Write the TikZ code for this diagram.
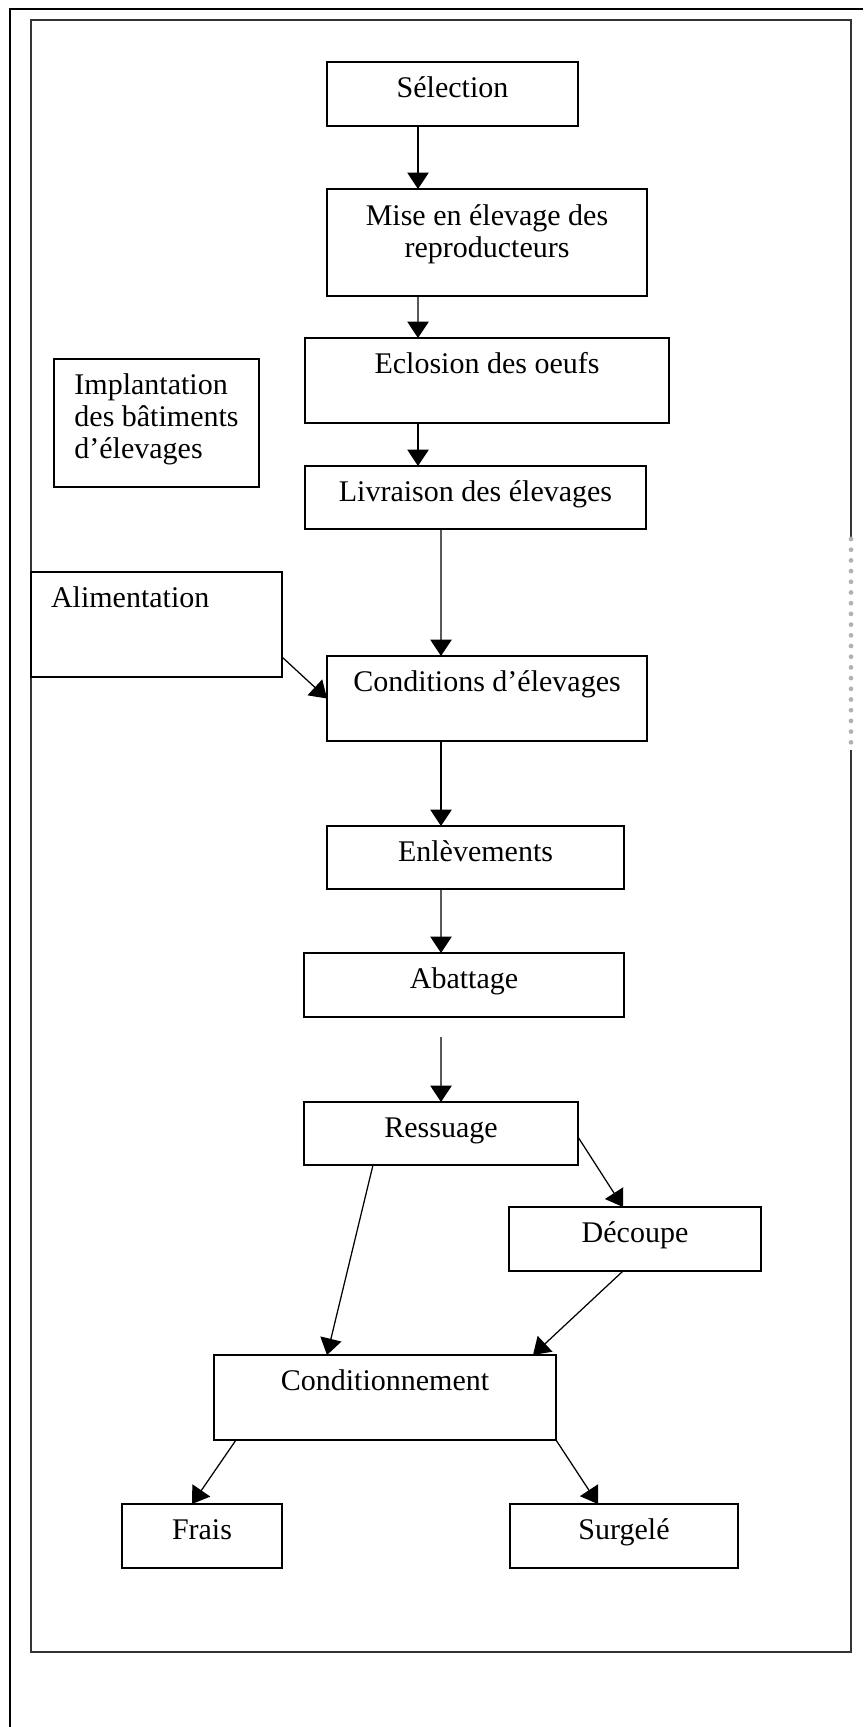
\documentclass[tikz,border=0pt]{standalone}
\usepackage{fontspec}
\setmainfont{Liberation Serif}
\usetikzlibrary{arrows.meta}

\tikzset{
  etape/.style 2 args={draw, line width=0.5pt, anchor=north west, inner sep=0pt, outer sep=0pt,
    minimum width=#1, text height=14pt, text depth=#2, align=center,
    font=\fontsize{12pt}{12.8pt}\selectfont},
  fleche/.style={-{Triangle[length=6.6pt,width=8.6pt]}, line width=0.5pt},
}

\begin{document}
\begin{tikzpicture}[x=0.4pt, y=-0.4pt]
\useasboundingbox (0,0) rectangle (863,1727);
% cadres
\draw[line width=0.8pt] (10,1727) -- (10,9) -- (863,9);
\draw[line width=0.55pt, black!80] (851,539) -- (851,20) -- (31,20) -- (31,1652) -- (851,1652) -- (851,750);
\draw[gray!60, line width=1.9pt, line cap=round, dash pattern=on 0pt off 4.28pt] (851,539) -- (851,750);

% etapes
\node[etape={100.4pt}{11.6pt}] (sel) at (327,62) {Sélection};
\node[etape={128pt}{15.6pt}, text height=27.2pt] (mise) at (327,189) {Mise en élevage des\\reproducteurs};
\node[etape={145.6pt}{20pt}] (ecl) at (305,338) {Eclosion des oeufs};
\node[etape={82pt}{11.6pt}, text height=39.6pt, align=left] (impl) at (54,359) {Implantation\\des bâtiments\\d’élevages};
\node[etape={136.4pt}{11.2pt}] (livr) at (305,466) {Livraison des élevages};
\node[etape={100.4pt}{28pt}, text width=84.4pt, inner xsep=8pt, align=left] (alim) at (31,572) {Alimentation};
\node[etape={128pt}{20pt}] (cond) at (327,656) {Conditions d’élevages};
\node[etape={118.8pt}{11.2pt}] (enl) at (327,826) {Enlèvements};
\node[etape={128pt}{11.6pt}] (abat) at (304,953) {Abattage};
\node[etape={109.6pt}{11.2pt}] (ress) at (304,1102) {Ressuage};
\node[etape={100.8pt}{11.6pt}] (dec) at (509,1207) {Découpe};
\node[etape={136.8pt}{20pt}] (condi) at (214,1355) {Conditionnement};
\node[etape={64pt}{11.6pt}] (frais) at (122,1504) {Frais};
\node[etape={91.2pt}{11.6pt}] (surg) at (510,1504) {Surgelé};
\coordinate (libre) at (441,1037);

% fleches
\draw[fleche] ([xshift=36.4pt]sel.south west) -- ([xshift=36.4pt]mise.north west);
\draw[fleche] ([xshift=36.4pt]mise.south west) -- ([xshift=45.2pt]ecl.north west);
\draw[fleche] ([xshift=45.2pt]ecl.south west) -- ([xshift=45.2pt]livr.north west);
\draw[fleche] ([xshift=54.4pt]livr.south west) -- ([xshift=45.6pt]cond.north west);
\draw[fleche] ([yshift=-34pt]alim.north east) -- (cond.west);
\draw[fleche] ([xshift=45.6pt]cond.south west) -- ([xshift=45.6pt]enl.north west);
\draw[fleche] ([xshift=45.6pt]enl.south west) -- ([xshift=54.8pt]abat.north west);
\draw[fleche] (libre) -- ([xshift=54.8pt]ress.north west);
\draw[fleche] ([yshift=-14pt]ress.north east) -- ([xshift=45.6pt]dec.north west);
\draw[fleche] ([xshift=27.6pt]ress.south west) -- ([xshift=45.2pt]condi.north west);
\draw[fleche] ([xshift=45.6pt]dec.south west) -- ([xshift=127.6pt]condi.north west);
\draw[fleche] ([xshift=8.8pt]condi.south west) -- ([xshift=28pt]frais.north west);
\draw[fleche] (condi.south east) -- ([xshift=35.2pt]surg.north west);
\end{tikzpicture}
\end{document}
